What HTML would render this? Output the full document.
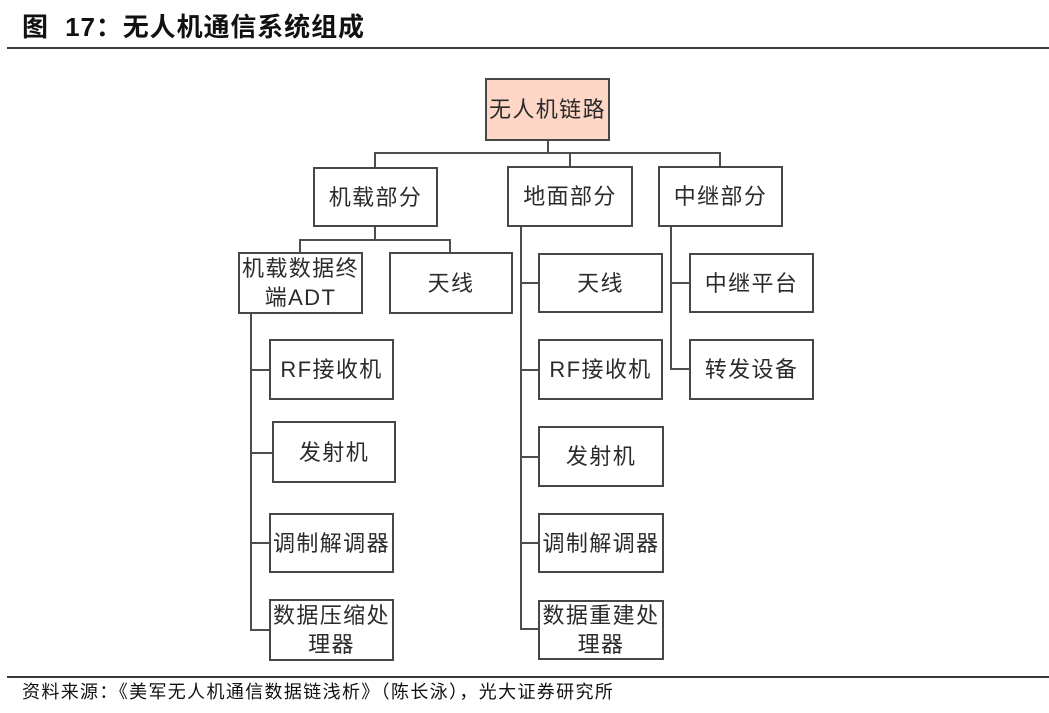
<!DOCTYPE html>
<html>
<head>
<meta charset="utf-8">
<style>
  html, body { margin:0; padding:0; }
  body { width:1049px; height:713px; position:relative; background:#fff; overflow:hidden;
         font-family:"Liberation Sans","Noto Sans CJK SC",sans-serif; color:#2b2b2b; }
  .title { position:absolute; left:22px; top:7px; font-size:26px; font-weight:bold; color:#111;
           white-space:nowrap; letter-spacing:0.9px; font-family:"Liberation Sans","Noto Sans CJK SC",sans-serif; }
  .rule { position:absolute; left:7px; right:0; height:2px; background:#3a3a3a; }
  .foot { position:absolute; left:22px; top:678px; font-size:18px; letter-spacing:1.35px; color:#111; white-space:nowrap; }
  .b { position:absolute; box-sizing:border-box; border:2px solid #474747; background:#fff;
       display:flex; align-items:center; justify-content:center; text-align:center;
       font-size:22px; line-height:29px; letter-spacing:1.4px; }
  .root { background:#fdd6c5; }
  svg { position:absolute; left:0; top:0; }
</style>
</head>
<body>
<div class="title">图&nbsp; 17：无人机通信系统组成</div>
<div class="rule" style="top:47px;"></div>

<svg width="1049" height="713" viewBox="0 0 1049 713">
  <g stroke="#4d4d4d" stroke-width="2" fill="none">
    <line x1="548" y1="141" x2="548" y2="153"/>
    <line x1="374" y1="153" x2="721" y2="153"/>
    <line x1="375" y1="153" x2="375" y2="167"/>
    <line x1="570" y1="153" x2="570" y2="166"/>
    <line x1="720" y1="153" x2="720" y2="166"/>
    <line x1="375" y1="227" x2="375" y2="240"/>
    <line x1="299" y1="240" x2="451" y2="240"/>
    <line x1="300" y1="240" x2="300" y2="252"/>
    <line x1="450" y1="240" x2="450" y2="252"/>
    <line x1="251" y1="314" x2="251" y2="631"/>
    <line x1="250" y1="370" x2="269" y2="370"/>
    <line x1="250" y1="453" x2="272" y2="453"/>
    <line x1="250" y1="543" x2="269" y2="543"/>
    <line x1="250" y1="630" x2="269" y2="630"/>
    <line x1="521" y1="227" x2="521" y2="630"/>
    <line x1="520" y1="283" x2="538" y2="283"/>
    <line x1="520" y1="370" x2="538" y2="370"/>
    <line x1="520" y1="457" x2="538" y2="457"/>
    <line x1="520" y1="543" x2="538" y2="543"/>
    <line x1="520" y1="629" x2="538" y2="629"/>
    <line x1="671" y1="227" x2="671" y2="370"/>
    <line x1="670" y1="283" x2="689" y2="283"/>
    <line x1="670" y1="369" x2="689" y2="369"/>
  </g>
</svg>

<div class="b root" style="left:485px;top:78px;width:125px;height:63px;">无人机链路</div>

<div class="b" style="left:313px;top:167px;width:125px;height:60px;">机载部分</div>
<div class="b" style="left:507px;top:166px;width:126px;height:61px;">地面部分</div>
<div class="b" style="left:658px;top:166px;width:125px;height:61px;">中继部分</div>

<div class="b" style="left:238px;top:252px;width:125px;height:62px;">机载数据终<br>端ADT</div>
<div class="b" style="left:389px;top:252px;width:124px;height:62px;">天线</div>

<div class="b" style="left:538px;top:253px;width:125px;height:60px;">天线</div>
<div class="b" style="left:689px;top:253px;width:125px;height:60px;">中继平台</div>

<div class="b" style="left:269px;top:339px;width:125px;height:61px;">RF接收机</div>
<div class="b" style="left:538px;top:339px;width:125px;height:61px;">RF接收机</div>
<div class="b" style="left:689px;top:339px;width:125px;height:61px;">转发设备</div>

<div class="b" style="left:272px;top:421px;width:124px;height:62px;">发射机</div>
<div class="b" style="left:538px;top:426px;width:126px;height:61px;">发射机</div>

<div class="b" style="left:269px;top:513px;width:125px;height:60px;">调制解调器</div>
<div class="b" style="left:538px;top:513px;width:126px;height:60px;">调制解调器</div>

<div class="b" style="left:269px;top:599px;width:125px;height:62px;">数据压缩处<br>理器</div>
<div class="b" style="left:538px;top:600px;width:126px;height:60px;">数据重建处<br>理器</div>

<div class="rule" style="top:676px;"></div>
<div class="foot">资料来源：《美军无人机通信数据链浅析》（陈长泳），光大证券研究所</div>
</body>
</html>
